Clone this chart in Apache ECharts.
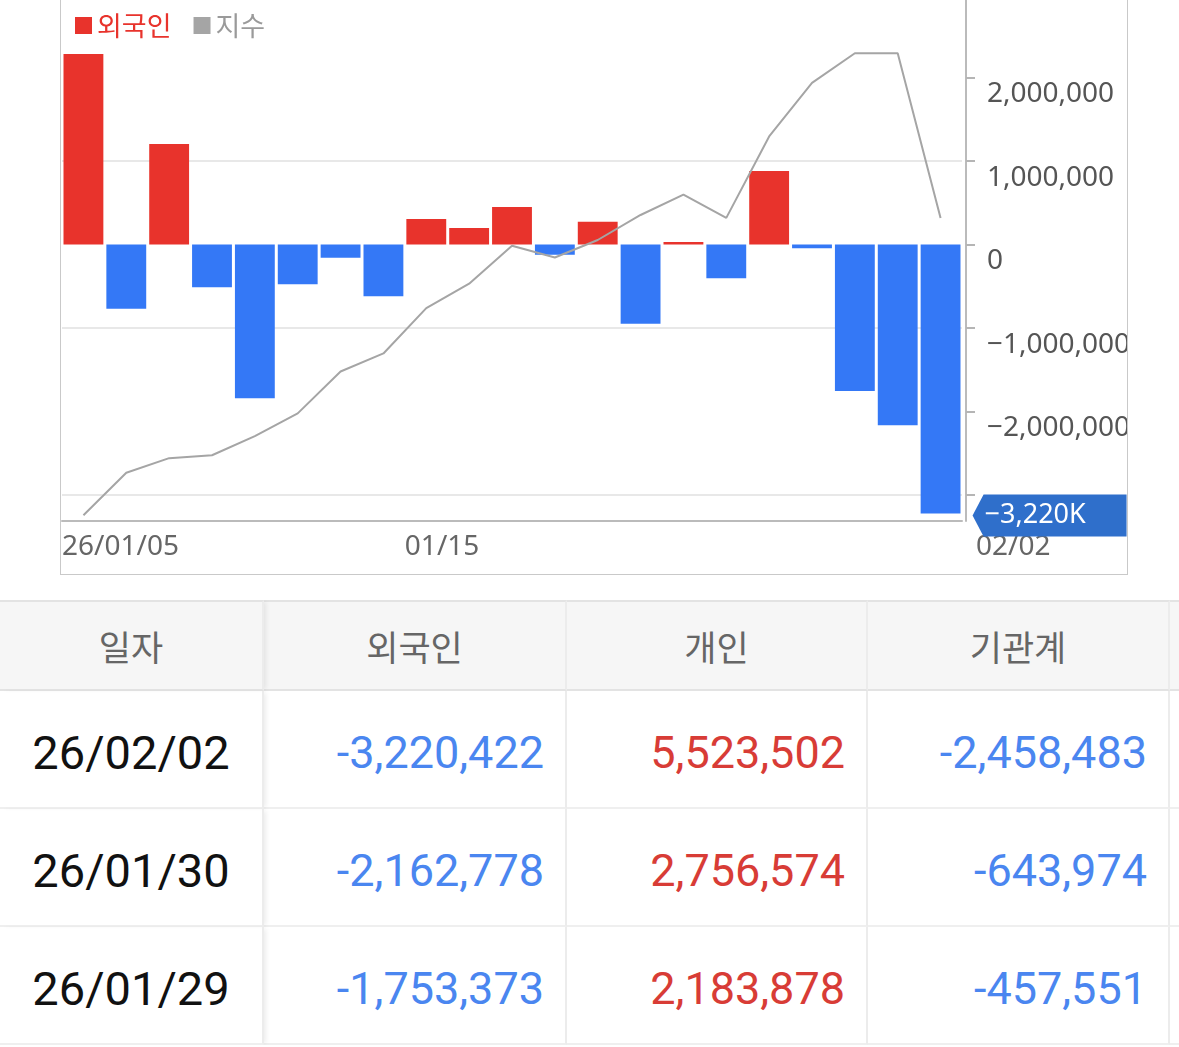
<!DOCTYPE html>
<html>
<head>
<meta charset="utf-8">
<script src="https://cdn.jsdelivr.net/npm/echarts@6/dist/echarts.min.js"></script>
<style>
  html, body { margin: 0; padding: 0; background: #fff; }
  body { width: 1179px; height: 1047px; overflow: hidden; position: relative; }
  #box { position: absolute; left: 60px; top: -41px; width: 1068px; height: 616px;
         border: 1px solid #c9c9c9; box-sizing: border-box; }
  #chart { width: 1066px; height: 614px; }
  #tbl { position: absolute; left: 0; top: 600px; width: 1179px; overflow: hidden; }
  .row { display: flex; width: 1400px; }
  .cell { flex: none; box-sizing: border-box; display: flex; align-items: center;
          border-right: 2px solid #ececec; border-bottom: 2px solid #efefef; }
  .head .cell { height: 91px; background: #f6f6f6; border-top: 2px solid #e3e3e3;
                border-bottom-color: #e3e3e3; justify-content: center; color: #666;
                font-family: 'Noto Sans CJK KR', 'Noto Sans', sans-serif; font-size: 35px; }
  .body .cell { height: 118px; justify-content: flex-end; padding: 6px 21px 0 0;
                font-family: Roboto, 'Noto Sans', sans-serif; font-size: 45px; }
  .body .cell.date { justify-content: center; padding: 6px 0 0 0; color: #111; font-size: 47px; }
  .c0 { width: 264px; position: relative; z-index: 1; box-shadow: 4px 0 5px -2px rgba(0,0,0,0.08); }
  .c1 { width: 303px; }
  .c2 { width: 301px; }
  .c3 { width: 302px; }
  .c4 { width: 200px; }
  .pos { color: #d83c36; }
  .neg { color: #4a86f0; }
</style>
</head>
<body>
<div id="box"><div id="chart"></div></div>
<div id="tbl"></div>
<script>
// 일별 외국인 순매수 (주) 와 지수
var dates = ['26/01/05', '26/01/06', '26/01/07', '26/01/08', '26/01/09',
             '26/01/12', '26/01/13', '26/01/14', '26/01/15', '26/01/16',
             '26/01/19', '26/01/20', '26/01/21', '26/01/22', '26/01/23',
             '26/01/26', '26/01/27', '26/01/28', '26/01/29', '26/01/30', '26/02/02'];
var foreign = [2283000, -768000, 1205000, -511000, -1841000, -475000, -157000, -619000,
               307000, 199000, 450000, -121000, 274000, -947000, 30000, -404000,
               881000, -44000, -1753373, -2162778, -3220422];
var indexValues = [4410, 4483, 4508, 4513, 4546, 4585, 4657, 4688, 4766, 4808, 4873,
                   4853, 4883, 4926, 4961, 4921, 5061, 5153, 5204, 5204, 4921];

var yTicks = [-3000000, -2000000, -1000000, 0, 1000000, 2000000];
var yLabels = [-2000000, -1000000, 0, 1000000, 2000000];
var xLabelIdx = [0, 8, 20];
var xLabelText = ['26/01/05', '01/15', '02/02'];

var tableHead = ['일자', '외국인', '개인', '기관계'];
var tableDates = ['26/02/02', '26/01/30', '26/01/29'];
var tableForeign = [-3220422, -2162778, -1753373];
var tableIndividual = [5523502, 2756574, 2183878];
var tableInstitution = [-2458483, -643974, -457551];

var RED = '#e8332c', BLUE = '#3478f6', GREY = '#a5a5a5';
var FONT = "'Noto Sans', 'Noto Sans CJK KR', sans-serif";

function fmt(v) {
    return v.toLocaleString('en-US').replace('-', '\u2212');
}

// label positions on the helper axis: left edge of a category, last one at the axis end
var last = dates.length - 1;
var xLabelPos = xLabelIdx.map(function (i) { return i === last ? i + 0.5 : i - 0.5; });

var chart = echarts.init(document.getElementById('chart'));
var lastVal = foreign[last];

var option = {
    animation: false,
    textStyle: { fontFamily: FONT },
    legend: {
        left: 9,
        top: 47,
        icon: 'rect',
        itemWidth: 17,
        itemHeight: 17,
        itemGap: 22,
        textStyle: { fontSize: 27, fontFamily: "'Noto Sans CJK KR', sans-serif" },
        data: [
            { name: '외국인', itemStyle: { color: RED }, textStyle: { color: RED } },
            { name: '지수', itemStyle: { color: GREY }, textStyle: { color: '#9a9a9a' } }
        ]
    },
    grid: { left: 1, right: 165, top: 37.4, bottom: 53, outerBoundsMode: 'none' },
    xAxis: [{
        type: 'category',
        data: dates,
        boundaryGap: true,
        axisLine: { show: true, onZero: false, lineStyle: { color: '#bbbbbb', width: 2 } },
        axisTick: { show: false },
        axisLabel: { show: false },
        splitLine: { show: false }
    }, {
        type: 'value',
        position: 'bottom',
        min: -0.5,
        max: last + 0.5,
        axisLine: { show: false, onZero: false },
        axisTick: { show: false },
        splitLine: { show: false },
        axisLabel: {
            customValues: xLabelPos,
            align: 'left',
            margin: 12,
            fontSize: 28,
            color: '#666',
            fontFamily: FONT,
            formatter: function (v) {
                var k = xLabelPos.indexOf(v);
                if (k < 0) return '';
                if (k === xLabelPos.length - 1) return '{e|' + xLabelText[k] + '}';
                return xLabelText[k];
            },
            rich: {
                e: { padding: [0, 0, 0, 14], fontSize: 28, color: '#666', fontFamily: FONT }
            }
        }
    }],
    yAxis: [{
        type: 'value',
        position: 'right',
        offset: 4,
        min: -3310000,
        max: 2960000,
        axisLine: { show: true, onZero: false, lineStyle: { color: '#bbbbbb', width: 2 } },
        axisTick: { show: true, customValues: yTicks, length: 9,
                    lineStyle: { color: '#b5b5b5', width: 2 } },
        axisLabel: {
            customValues: yLabels,
            verticalAlign: 'top',
            lineHeight: 33,
            margin: 21,
            fontSize: 28,
            color: '#555',
            fontFamily: FONT,
            formatter: fmt
        },
        splitLine: { show: true, lineStyle: { color: ['#e8e8e8', 'transparent'], width: 2 } }
    }, {
        type: 'value',
        show: false,
        min: 4400,
        max: 5300,
        axisLine: { show: false, onZero: false },
        splitLine: { show: false }
    }],
    series: [{
        name: '외국인',
        type: 'bar',
        xAxisIndex: 0,
        yAxisIndex: 0,
        barCategoryGap: '7%',
        data: foreign,
        itemStyle: {
            color: function (p) { return p.value >= 0 ? RED : BLUE; }
        },
        markPoint: {
            silent: true,
            symbol: 'path://M0,21L11,0L154,0L154,42L11,42Z',
            symbolSize: [154, 42],
            symbolOffset: [109, 2],
            itemStyle: { color: '#2f6fcb' },
            label: {
                show: true,
                position: 'insideLeft',
                distance: 12,
                color: '#fff',
                fontSize: 27,
                fontFamily: FONT,
                formatter: function () {
                    return fmt(Math.round(lastVal / 1000)) + 'K';
                }
            },
            data: [{ coord: [last, lastVal], value: lastVal }]
        }
    }, {
        name: '지수',
        type: 'line',
        xAxisIndex: 0,
        yAxisIndex: 1,
        data: indexValues,
        symbol: 'none',
        z: 3,
        itemStyle: { color: GREY },
        lineStyle: { color: GREY, width: 2 }
    }]
};
chart.setOption(option);

// table below the chart
function numCell(cls, v) {
    return '<div class="cell ' + cls + ' ' + (v < 0 ? 'neg' : 'pos') + '">' +
        v.toLocaleString('en-US') + '</div>';
}
var html = '<div class="row head">';
tableHead.forEach(function (h, i) {
    html += '<div class="cell c' + i + '">' + h + '</div>';
});
html += '<div class="cell c4"></div></div>';
tableDates.forEach(function (d, r) {
    html += '<div class="row body">' +
        '<div class="cell c0 date">' + d + '</div>' +
        numCell('c1', tableForeign[r]) +
        numCell('c2', tableIndividual[r]) +
        numCell('c3', tableInstitution[r]) +
        '<div class="cell c4"></div></div>';
});
document.getElementById('tbl').innerHTML = html;
</script>
</body>
</html>
